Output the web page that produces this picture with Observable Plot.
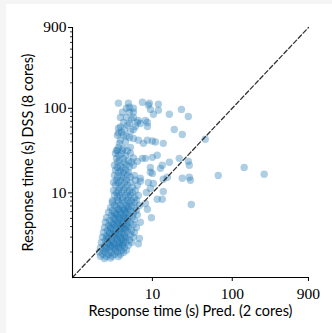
<!DOCTYPE html>
<html>
<head>
<meta charset="utf-8">
<script src="https://cdn.jsdelivr.net/npm/d3@7"></script>
<script src="https://cdn.jsdelivr.net/npm/@observablehq/plot@0.6"></script>
<style>
  html, body { margin: 0; padding: 0; background: #f5f5f5; }
  #chart { padding: 4px 0 0 6px; width: 326px; height: 329px; }
  #chart svg { background: #ffffff; display: block; }
</style>
</head>
<body>
<div id="chart"></div>
<script>
// Response times: [Pred. (2 cores), DSS (8 cores)] in seconds
const upperRuns = [
  [3.76,115],[5.01,115],[7.5,118],[9.17,115],[11.9,112],[8.91,109],[4.73,100],[5.16,103],[5.79,100],[9.44,97],
  [11.9,95],[5.16,90],[5.79,90],[10.3,85],[16.3,85],[23.1,97],[28.2,80],[4.73,78],[5.79,78],[6.68,72],
  [8.18,72],[8.66,68],[4.35,68],[6.49,68],[5.16,66],[7.08,66],[4.87,63],[3.76,58],[8.66,61],[3.98,60],
  [4.47,56],[5.79,56],[18.8,56],[5.31,53],[3.76,51],[23.7,49],[3.65,48],[4.35,48],[5.16,45],[5.79,44],
  [45.9,43],[3.98,42],[6.68,42],[8.66,42],[10,41],[4.61,40],[7.72,38.5],[10.9,40],[13.7,38.5],[3.76,34.5],
  [4.35,33.6],[5.31,34.5],[3.55,31.8],[4.22,90],[3.98,78],[4.1,52],[4.73,46.6],[6.13,61],[3.87,38.5],[5.47,74]
];
const scatteredRuns = [
  [7.5,25.6],[8.18,25.6],[10,26.3],[11.5,27.8],[16.3,23],[21.7,25.6],[28.2,23.6],[29,21.2],[13.3,21.2],[5.79,21.2],
  [9.44,17.5],[7.08,14.9],[8.91,13.3],[10.3,12.9],[13.7,14.5],[15.4,15.3],[23.7,14.9],[29,15.3],[29.9,14.1],[66.8,16.1],
  [141,20],[251,16.6],[8.41,10.1],[13.7,10.4],[8.18,7.5],[13.3,8.4],[30.7,7.3],[11.5,8.4],[9.44,11.3],[10,17],
  [9.44,20],[12.6,19.5],[7.08,13.7],[6.49,23.6],[9.72,5.1],[8.66,6.4],[6.88,2.9],[6.68,2.5]
];
const middleRuns = [
  [3.65,31.8],[4.22,32],[4.87,31.5],[3.45,29.3],[4.1,29],[5.31,29.5],[3.76,27.8],[4.61,27.6],
  [3.55,25.6],[4.35,25.4],[5.79,25.8],[3.87,24.2],[5.01,24],[3.65,23],[4.47,22.8],[5.47,23.2],
  [3.35,21.2],[3.98,21],[4.73,21.4],[3.65,20],[4.22,19.8],[5.16,20.2],[3.45,18.5],[3.98,18.3],[4.61,18.7],
  [3.76,17.5],[4.35,17.3],[5.01,17.6],[3.35,16.1],[4.1,16],[4.87,16.3],[5.96,16.1],
  [3.65,15.3],[4.35,15.1],[5.31,15.4],[3.55,14.1],[3.98,14],[4.73,14.2],[6.13,14.1],
  [3.26,13.3],[3.76,13.2],[4.47,13.4],[5.31,13.3],[3.45,12.3],[4.1,12.2],[4.87,12.4],[6.49,12.3],
  [3.87,11.6],[4.61,11.5],[5.62,11.7],[3.26,10.7],[3.76,10.6],[4.35,10.8],[5.16,10.7],[6.13,10.6],
  [3.55,10.1],[4.1,10],[4.87,10.2],[5.62,10.1],[3.35,9.3],[3.87,9.4],[4.61,9.3],[5.31,9.4],[6.68,9.3],
  [3.65,8.9],[4.22,8.8],[5.01,8.9],[5.96,8.8],[3.16,8.1],[3.65,8.2],[4.22,8.1],[4.87,8.2],[5.47,8.1],[6.31,8.2]
];
const lowerRuns = [
  [3.16,7.7],[3.76,7.8],[4.47,7.7],[5.16,7.6],[5.96,7.7],
  [3.35,7.1],[3.98,7.2],[4.73,7.1],[5.47,7.0],[6.88,7.1],
  [2.99,6.7],[3.55,6.8],[4.22,6.7],[5.01,6.8],[6.13,6.7],
  [3.16,6.2],[3.76,6.3],[4.47,6.2],[5.31,6.1],[6.31,6.2],
  [2.82,5.9],[3.35,5.8],[3.98,5.9],[4.73,5.9],[5.79,5.8],
  [3.07,5.4],[3.65,5.5],[4.35,5.4],[5.16,5.4],[6.49,5.5],
  [2.66,5.1],[3.26,5.2],[3.87,5.1],[4.61,5.1],[5.62,5.2],
  [2.9,4.7],[3.45,4.8],[4.1,4.7],[4.87,4.7],[5.96,4.8],
  [2.58,4.5],[3.07,4.4],[3.65,4.5],[4.35,4.5],[5.31,4.4],[7.08,4.5],
  [2.82,4.1],[3.35,4.2],[3.98,4.1],[4.73,4.1],[5.79,4.2],
  [2.51,3.9],[2.99,3.9],[3.55,4.0],[4.22,3.9],[5.01,3.9],[6.31,3.9],
  [2.74,3.6],[3.26,3.6],[3.87,3.6],[4.61,3.7],[5.47,3.6],
  [2.44,3.4],[2.9,3.4],[3.45,3.4],[4.1,3.4],[4.87,3.5],[5.96,3.4],
  [2.66,3.1],[3.16,3.2],[3.76,3.1],[4.47,3.1],[5.31,3.2],
  [2.37,3.0],[2.82,2.95],[3.35,3.0],[3.98,2.95],[4.73,3.0],[5.79,3.0],
  [2.58,2.75],[3.07,2.7],[3.65,2.75],[4.35,2.7],[5.16,2.75],
  [2.3,2.6],[2.74,2.6],[3.26,2.6],[3.87,2.6],[4.61,2.6],[5.47,2.6],
  [2.51,2.4],[2.99,2.4],[3.55,2.4],[4.22,2.4],[5.01,2.4],
  [2.24,2.25],[2.66,2.25],[3.16,2.3],[3.76,2.25],[4.47,2.25],
  [2.44,2.1],[2.9,2.1],[3.45,2.1],[4.1,2.1],[4.73,2.1],
  [2.17,2.0],[2.58,2.0],[3.07,1.98],[3.65,2.0],[4.35,1.98],
  [2.37,1.88],[2.82,1.87],[3.35,1.88],[3.98,1.87],
  [2.24,1.78],[2.66,1.77],[3.16,1.78],[3.76,1.77],
  [2.51,1.68],[2.99,1.7]
];
// extra runs overlapping the densest lower cluster
const denseRuns = [
  [2.6,2.2],[3.0,2.3],[3.4,2.2],[3.9,2.3],[2.8,2.5],[3.3,2.5],[3.8,2.5],[4.3,2.5],
  [2.7,2.9],[3.1,2.8],[3.6,2.9],[4.1,2.8],[4.6,2.9],[2.9,3.3],[3.4,3.2],[3.9,3.3],[4.4,3.3],
  [3.0,3.8],[3.5,3.7],[4.0,3.8],[4.5,3.8],[3.2,4.3],[3.7,4.3],[4.2,4.3],[4.8,4.3],
  [3.3,5.0],[3.8,4.9],[4.3,5.0],[4.9,5.0],[3.5,5.7],[4.0,5.6],[4.6,5.7],[3.8,6.5],[4.4,6.4],[5.0,6.5]
];
const majorTicks = [10, 100, 900];
const minorTicks = [2,3,4,5,6,7,8,9,20,30,40,50,60,70,80,90,200,300,400,500,600,700,800];
const identityLine = [1, 900];
const xLabel = "Response time (s) Pred. (2 cores)";
const yLabel = "Response time (s) DSS (8 cores)";

const runs = [...upperRuns, ...scatteredRuns, ...middleRuns, ...lowerRuns, ...denseRuns];
const serif = "'Liberation Serif', 'DejaVu Serif', serif";
const sans = "Lato, 'DejaVu Sans', sans-serif";

const chart = Plot.plot({
  width: 326,
  height: 329,
  marginLeft: 66,
  marginRight: 24,
  marginTop: 23,
  marginBottom: 56,
  style: { background: "#ffffff", color: "#000000", overflow: "visible" },
  x: { type: "log", domain: [1, 900.5] },
  y: { type: "log", domain: [1, 900.5] },
  marks: [
    Plot.axisY({ ticks: minorTicks, tickSize: 2, text: d => "", label: null, strokeWidth: 0.8 }),
    Plot.axisY({ ticks: majorTicks, tickSize: 4, tickPadding: 2, text: d => String(d), label: null,
      fontFamily: serif, fontSize: 15.5, fontWeight: "normal", strokeWidth: 1 }),
    Plot.axisX({ ticks: majorTicks, tickSize: 4, tickPadding: 6, text: d => String(d), label: null,
      fontFamily: serif, fontSize: 15.5, fontWeight: "normal", strokeWidth: 1 }),
    Plot.dot(runs, { x: d => d[0], y: d => d[1], r: 3.7, fill: "#1f77b4", fillOpacity: 0.36, stroke: "none" }),
    Plot.line(identityLine, { x: d => d, y: d => d, stroke: "#333333", strokeWidth: 1.3, strokeDasharray: "4.5,2.5" }),
    Plot.ruleX([1], { stroke: "#000000", strokeWidth: 1.1 }),
    Plot.ruleY([1], { stroke: "#000000", strokeWidth: 1.1 }),
    Plot.text([xLabel], { frameAnchor: "bottom", dy: 38, fontFamily: sans, fontSize: 14.5, fill: "#000000" }),
    Plot.text([yLabel], { frameAnchor: "left", textAnchor: "middle", rotate: -90, dx: -44, fontFamily: sans, fontSize: 14.5, fill: "#000000" })
  ]
});
document.getElementById("chart").appendChild(chart);
</script>
</body>
</html>
